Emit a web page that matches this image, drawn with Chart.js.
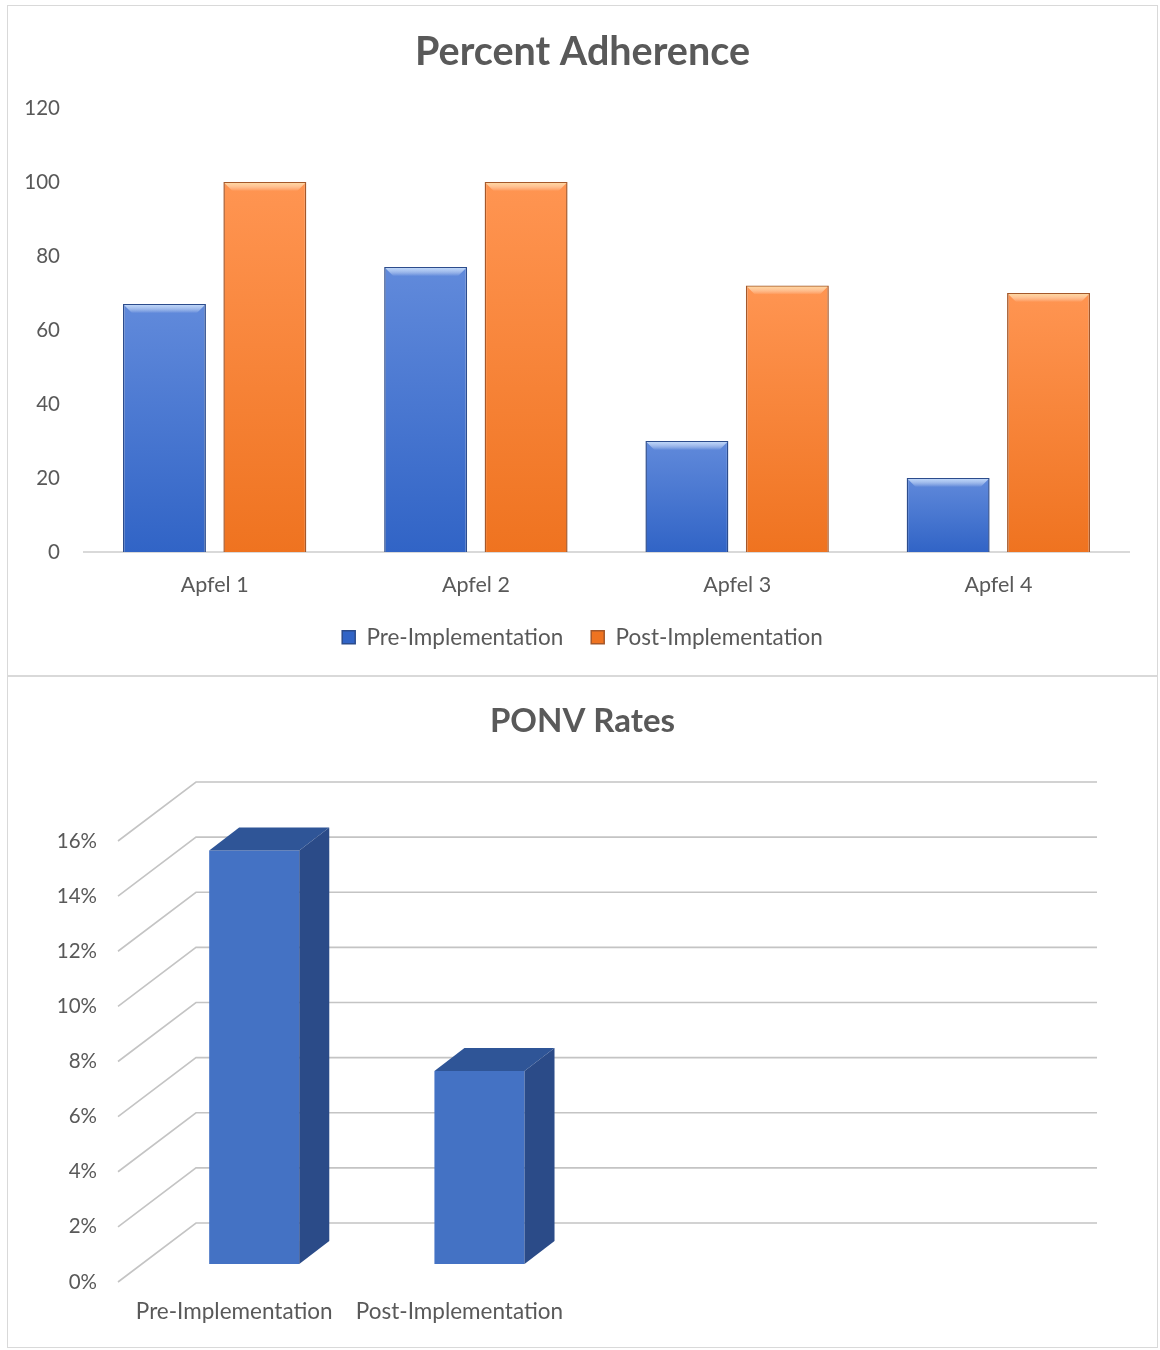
<!DOCTYPE html>
<html>
<head>
<meta charset="utf-8">
<script src="https://cdn.jsdelivr.net/npm/chart.js@4.4.1/dist/chart.umd.min.js"></script>
<style>
    body { margin: 0; background: #fff; }
    .card { position: absolute; left: 7px; width: 1149px; border: 1px solid #d9d9d9; background: #fff; }
    #card1 { top: 5px; height: 669px; }
    #card2 { top: 676px; height: 670px; }
</style>
</head>
<body>
<div class="card" id="card1"><canvas id="adherenceChart"></canvas></div>
<div class="card" id="card2"><canvas id="ponvChart"></canvas></div>
<script>
// Данные: Percent Adherence
const apfelLabels = ['Apfel 1', 'Apfel 2', 'Apfel 3', 'Apfel 4'];
const preAdherence = [67, 77, 30, 20];
const postAdherence = [100, 100, 72, 70];
const adherenceTicks = [0, 20, 40, 60, 80, 100, 120];

// Данные: PONV Rates (в процентах)
const ponvLabels = ['Pre-Implementation', 'Post-Implementation', '', ''];
const ponvRates = [15, 7];
const ponvTicks = [0, 2, 4, 6, 8, 10, 12, 14, 16];

Chart.defaults.font.family = 'Lato';
Chart.defaults.color = '#595959';
Chart.defaults.animation = false;

// Градиент для столбца
function barFill(light, dark, mid) {
    return ctx => {
        const chart = ctx.chart;
        if (ctx.type !== 'data' || !chart.chartArea) return mid;
        const y = chart.scales.y.getPixelForValue(ctx.raw);
        const base = chart.scales.y.getPixelForValue(0);
        const g = chart.ctx.createLinearGradient(0, y, 0, base);
        g.addColorStop(0, light);
        g.addColorStop(1, dark);
        return g;
    };
}

// Пустая ось справа - только для отступа
function spacerAxis(width) {
    return {
        position: 'right',
        display: true,
        grid: { display: false, drawTicks: false },
        border: { display: false },
        ticks: { display: false },
        afterFit: axis => { axis.width = width; }
    };
}

// Фаска сверху столбцов
const bevelPlugin = {
    id: 'bevel',
    afterDatasetsDraw(chart) {
        const c = chart.ctx;
        chart.data.datasets.forEach((ds, i) => {
            chart.getDatasetMeta(i).data.forEach(bar => {
                const left = bar.x - bar.width / 2 + 1;
                const right = bar.x + bar.width / 2 - 1;
                const top = bar.y + 1;
                const d = 8;
                const g = c.createLinearGradient(0, top, 0, top + d);
                g.addColorStop(0, ds.bevelColor);
                g.addColorStop(1, 'rgba(255,255,255,0)');
                c.save();
                c.fillStyle = g;
                c.beginPath();
                c.moveTo(left, top);
                c.lineTo(right, top);
                c.lineTo(right - d, top + d);
                c.lineTo(left + d, top + d);
                c.closePath();
                c.fill();
                c.restore();
            });
        });
    }
};

// Смещения для псевдо-3D
const depth = { frontDx: -23.6, frontDy: 18, backDx: 54.4, backDy: -41, barDx: 30, barDy: -23 };

// Стенка с линиями сетки
const wallPlugin = {
    id: 'wall',
    beforeDatasetsDraw(chart) {
        const c = chart.ctx;
        const area = chart.chartArea;
        const y = chart.scales.y;
        c.save();
        c.strokeStyle = '#c4c4c4';
        c.lineWidth = 1.6;
        y.ticks.forEach(t => {
            const py = y.getPixelForValue(t.value);
            c.beginPath();
            c.moveTo(area.left + depth.frontDx, py + depth.frontDy);
            c.lineTo(area.left + depth.backDx, py + depth.backDy);
            c.lineTo(area.right + depth.backDx, py + depth.backDy);
            c.stroke();
        });
        c.restore();
    }
};

// Боковая и верхняя грани столбцов
const boxPlugin = {
    id: 'box3d',
    afterDatasetsDraw(chart) {
        const c = chart.ctx;
        const dx = depth.barDx, dy = depth.barDy;
        chart.getDatasetMeta(0).data.forEach(bar => {
            const l = bar.x - bar.width / 2, r = bar.x + bar.width / 2;
            const t = bar.y, b = bar.base;
            c.save();
            c.fillStyle = '#2f5597';
            c.beginPath();
            c.moveTo(l, t); c.lineTo(l + dx, t + dy); c.lineTo(r + dx, t + dy); c.lineTo(r, t);
            c.closePath(); c.fill();
            c.fillStyle = '#2b4b88';
            c.beginPath();
            c.moveTo(r, t); c.lineTo(r + dx, t + dy); c.lineTo(r + dx, b + dy); c.lineTo(r, b);
            c.closePath(); c.fill();
            c.restore();
        });
    }
};

function renderAdherence() {
    new Chart(document.getElementById('adherenceChart'), {
        type: 'bar',
        data: {
            labels: apfelLabels,
            datasets: [
                {
                    label: 'Pre-Implementation',
                    data: preAdherence,
                    backgroundColor: barFill('#618adb', '#3164c6', '#4472c4'),
                    borderColor: '#2c4c8c',
                    borderWidth: 1.5,
                    bevelColor: 'rgba(190,215,250,0.95)',
                    categoryPercentage: 0.769,
                    barPercentage: 0.826
                },
                {
                    label: 'Post-Implementation',
                    data: postAdherence,
                    backgroundColor: barFill('#ff9552', '#ef7320', '#f58233'),
                    borderColor: '#a5582a',
                    borderWidth: 1.5,
                    bevelColor: 'rgba(255,215,160,0.95)',
                    categoryPercentage: 0.769,
                    barPercentage: 0.826
                }
            ]
        },
        options: {
            responsive: true,
            maintainAspectRatio: false,
            layout: { padding: { left: 15, right: 15, top: 0, bottom: 16.5 } },
            plugins: {
                title: {
                    display: true,
                    text: 'Percent Adherence',
                    font: { size: 39.5, weight: 'bold' },
                    color: '#595959',
                    padding: { top: 22.3, bottom: 32.3 }
                },
                legend: {
                    position: 'bottom',
                    labels: { boxWidth: 13, boxHeight: 13, padding: 28, font: { size: 22.5 } }
                },
                tooltip: { enabled: false }
            },
            scales: {
                x: {
                    grid: { display: false, drawTicks: false },
                    border: { display: true, color: '#d9d9d9', width: 2 },
                    ticks: { font: { size: 21.5 }, padding: 20 },
                    afterFit: axis => { axis.height = 46; }
                },
                y: {
                    min: 0,
                    max: 120,
                    grid: { display: false, drawTicks: false },
                    border: { display: false },
                    ticks: { font: { size: 20.5 }, padding: 24 },
                    afterBuildTicks: axis => { axis.ticks = adherenceTicks.map(v => ({ value: v })); },
                    afterFit: axis => { axis.width = 61; }
                },
                yRight: spacerAxis(13)
            }
        },
        plugins: [bevelPlugin]
    });
}

function renderPonv() {
    new Chart(document.getElementById('ponvChart'), {
        type: 'bar',
        data: {
            labels: ponvLabels,
            datasets: [{
                label: 'PONV Rate',
                data: ponvRates,
                backgroundColor: '#4472c4',
                borderWidth: 0,
                categoryPercentage: 1,
                barPercentage: 0.4
            }]
        },
        options: {
            responsive: true,
            maintainAspectRatio: false,
            layout: { padding: { left: 46, right: 46, top: 0, bottom: 21.5 } },
            plugins: {
                title: {
                    display: true,
                    text: 'PONV Rates',
                    font: { size: 33, weight: 'bold' },
                    color: '#595959',
                    padding: { top: 24.2, bottom: 82.2 }
                },
                legend: { display: false },
                tooltip: { enabled: false }
            },
            scales: {
                x: {
                    grid: { display: false, drawTicks: false },
                    border: { display: false },
                    ticks: { font: { size: 22.5 }, padding: 34.5, labelOffset: -20, autoSkip: false, maxRotation: 0 },
                    afterFit: axis => { axis.height = 61.5; }
                },
                y: {
                    min: 0,
                    max: 16,
                    grid: { display: false, drawTicks: false },
                    border: { display: false },
                    ticks: { font: { size: 20.5 }, padding: 44.6, labelOffset: 18, callback: v => v + '%' },
                    afterBuildTicks: axis => { axis.ticks = ponvTicks.map(v => ({ value: v })); },
                    afterFit: axis => { axis.width = 87.6; }
                },
                yRight: spacerAxis(68.4)
            }
        },
        plugins: [wallPlugin, boxPlugin]
    });
}

renderAdherence();
renderPonv();
</script>
</body>
</html>
